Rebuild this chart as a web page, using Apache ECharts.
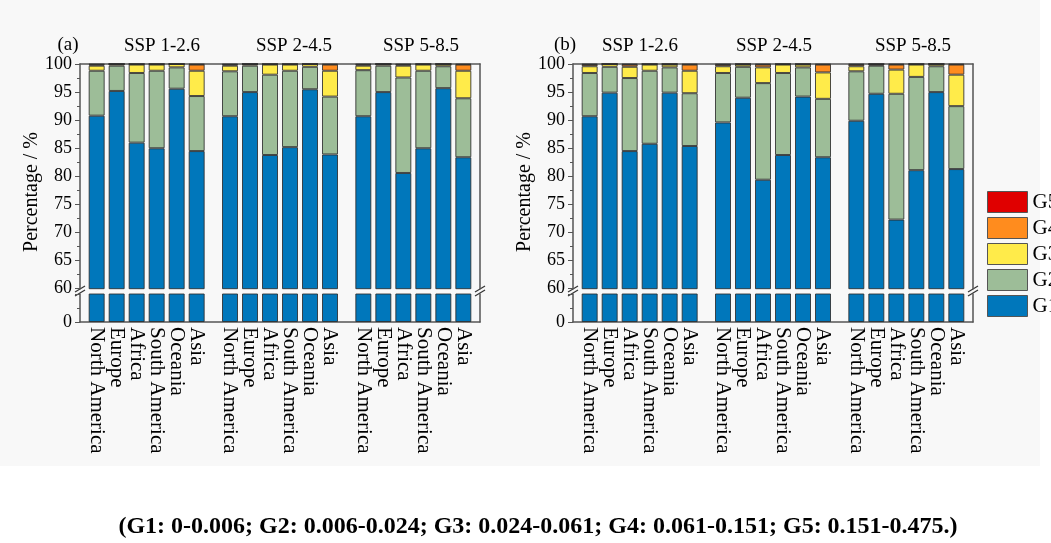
<!DOCTYPE html>
<html><head><meta charset="utf-8">
<script src="https://cdn.jsdelivr.net/npm/echarts@6/dist/echarts.min.js"></script>
<style>html,body{margin:0;padding:0;background:#fff}#c{width:1051px;height:543px}</style>
</head><body><div id="c"></div>
<script>
// ---------- data ----------
const regions = ['North America', 'Europe', 'Africa', 'South America', 'Oceania', 'Asia'];
const scenarios = ['SSP 1-2.6', 'SSP 2-4.5', 'SSP 5-8.5'];
const classNames = ['G1', 'G2', 'G3', 'G4', 'G5'];
const caption = '(G1: 0-0.006; G2: 0.006-0.024; G3: 0.024-0.061; G4: 0.061-0.151; G5: 0.151-0.475.)';

// Panel (a): percentage of each class, 3 scenarios x 6 regions
const a_G1 = [90.8, 95.2, 86.0, 85.0, 95.6, 84.5,  90.7, 95.0, 83.8, 85.2, 95.5, 83.9,  90.7, 95.0, 80.6, 85.0, 95.7, 83.4];
const a_G2 = [ 8.0,  4.5, 12.4, 13.8,  3.8,  9.8,   8.0,  4.7, 14.3, 13.6,  4.0, 10.3,   8.2,  4.7, 17.0, 13.8,  3.9, 10.5];
const a_G3 = [ 0.9,  0.3,  1.5,  1.1,  0.6,  4.5,   1.0,  0.3,  1.8,  1.1,  0.5,  4.6,   0.8,  0.3,  2.1,  1.1,  0.4,  4.9];
const a_G4 = [ 0.2,  0.0,  0.1,  0.1,  0.0,  1.1,   0.2,  0.0,  0.1,  0.1,  0.0,  1.1,   0.2,  0.0,  0.2,  0.1,  0.0,  1.1];
const a_G5 = [ 0.1,  0.0,  0.0,  0.0,  0.0,  0.1,   0.1,  0.0,  0.0,  0.0,  0.0,  0.1,   0.1,  0.0,  0.1,  0.0,  0.0,  0.1];

// Panel (b)
const b_G1 = [90.7, 94.9, 84.5, 85.8, 94.9, 85.4,  89.6, 94.0, 79.4, 83.8, 94.2, 83.4,  89.9, 94.7, 72.3, 81.1, 95.0, 81.3];
const b_G2 = [ 7.7,  4.6, 13.0, 13.0,  4.5,  9.4,   8.8,  5.5, 17.2, 14.6,  5.2, 10.4,   8.8,  5.0, 22.4, 16.6,  4.6, 11.2];
const b_G3 = [ 1.2,  0.5,  2.0,  1.1,  0.5,  4.0,   1.2,  0.4,  2.8,  1.5,  0.5,  4.7,   0.9,  0.2,  4.3,  2.2,  0.4,  5.6];
const b_G4 = [ 0.3,  0.0,  0.4,  0.1,  0.1,  1.1,   0.3,  0.1,  0.5,  0.1,  0.1,  1.4,   0.3,  0.1,  0.9,  0.1,  0.0,  1.8];
const b_G5 = [ 0.1,  0.0,  0.1,  0.0,  0.0,  0.1,   0.1,  0.0,  0.1,  0.0,  0.0,  0.1,   0.1,  0.0,  0.1,  0.0,  0.0,  0.1];

const upperTicks = {min: 60, max: 100, interval: 5};
const lowerTicks = {min: 0, max: 60, interval: 60};

// ---------- style ----------
const colors = {G1: '#0077bb', G2: '#9dbd98', G3: '#ffeb4a', G4: '#ff8c1e', G5: '#e00000'};
const FONT = 'Liberation Serif';
const AX = '#555';
const panels = [
  {label: '(a)', left: 80, data: [a_G1, a_G2, a_G3, a_G4, a_G5], labelX: 68, titleX: [162, 294, 421]},
  {label: '(b)', left: 573, data: [b_G1, b_G2, b_G3, b_G4, b_G5], labelX: 565, titleX: [640, 774, 913]}
];
const W = 400, UP_TOP = 64, UP_H = 224.7, LO_TOP = 294, LO_H = 28;
// 60 sub-slots across the panel width; region i of scenario g sits at slot 2 + 3i + 20g
const NSLOT = 60;
function slotOf(g, i) { return 2 + 3 * i + 20 * g; }
const slotNames = new Array(NSLOT).fill('');
scenarios.forEach((s, g) => regions.forEach((r, i) => { slotNames[slotOf(g, i)] = r; }));

const grid = [], xAxis = [], yAxis = [], series = [], graphic = [];
graphic.push({type: 'rect', shape: {x: 0, y: 0, width: 1040, height: 466}, style: {fill: '#f8f8f8'}, z: -10, silent: true});

panels.forEach((p, pi) => {
  const gU = grid.length, gL = gU + 1;
  grid.push({left: p.left, top: UP_TOP, width: W, height: UP_H, outerBoundsMode: 'none', containLabel: false});
  grid.push({left: p.left, top: LO_TOP, width: W, height: LO_H, outerBoundsMode: 'none', containLabel: false});
  const xU = xAxis.length, xL = xU + 1;
  xAxis.push({type: 'category', gridIndex: gU, position: 'top', data: slotNames,
    axisLine: {show: true, lineStyle: {color: AX, width: 1.5}}, axisTick: {show: false}, axisLabel: {show: false}, splitLine: {show: false}});
  xAxis.push({type: 'category', gridIndex: gL, position: 'bottom', data: slotNames,
    axisLine: {show: true, lineStyle: {color: AX, width: 1.5}}, axisTick: {show: false},
    axisLabel: {show: true, interval: 0, rotate: -90, margin: 5, fontFamily: FONT, fontSize: 21, color: '#000'},
    splitLine: {show: false}});
  const yU = yAxis.length;
  const tickStyle = {show: true, inside: false, length: 5, lineStyle: {color: AX, width: 1}};
  yAxis.push({type: 'value', gridIndex: gU, position: 'left', min: upperTicks.min, max: upperTicks.max, interval: upperTicks.interval,
    axisLine: {show: true, lineStyle: {color: AX, width: 1.5}}, axisTick: tickStyle,
    minorTick: {show: true, splitNumber: 2, length: 3, lineStyle: {color: AX}},
    axisLabel: {show: true, margin: 8, fontFamily: FONT, fontSize: 18, color: '#000'}, splitLine: {show: false}});
  yAxis.push({type: 'value', gridIndex: gU, position: 'right', min: upperTicks.min, max: upperTicks.max,
    axisLine: {show: true, lineStyle: {color: AX, width: 1.5}}, axisTick: {show: false}, axisLabel: {show: false}, splitLine: {show: false}});
  const yL = yAxis.length;
  yAxis.push({type: 'value', gridIndex: gL, position: 'left', min: lowerTicks.min, max: lowerTicks.max, interval: lowerTicks.interval,
    axisLine: {show: true, lineStyle: {color: AX, width: 1.5}}, axisTick: tickStyle,
    minorTick: {show: true, splitNumber: 2, length: 3, lineStyle: {color: AX}},
    axisLabel: {show: true, margin: 8, fontFamily: FONT, fontSize: 18, color: '#000', formatter: v => v === 0 ? '0' : ''}, splitLine: {show: false}});
  yAxis.push({type: 'value', gridIndex: gL, position: 'right', min: lowerTicks.min, max: lowerTicks.max,
    axisLine: {show: true, lineStyle: {color: AX, width: 1.5}}, axisTick: {show: false}, axisLabel: {show: false}, splitLine: {show: false}});

  classNames.forEach((cn, k) => {
    const vals = new Array(NSLOT).fill('-');
    scenarios.forEach((s, g) => regions.forEach((r, i) => { vals[slotOf(g, i)] = p.data[k][g * 6 + i]; }));
    const base = {type: 'bar', name: cn, barWidth: 16, clip: true, data: vals,
      itemStyle: {color: colors[cn], borderColor: 'rgba(45,45,45,0.85)', borderWidth: 1}, emphasis: {disabled: true}};
    series.push(Object.assign({}, base, {xAxisIndex: xU, yAxisIndex: yU, stack: 'up' + pi}));
    series.push(Object.assign({}, base, {xAxisIndex: xL, yAxisIndex: yL, stack: 'lo' + pi}));
  });

  // titles
  graphic.push({type: 'text', x: p.labelX, y: 45, style: {text: p.label, fontFamily: FONT, fontSize: 19, fill: '#000', align: 'center', verticalAlign: 'middle'}});
  scenarios.forEach((s, g) => graphic.push({type: 'text', x: p.titleX[g], y: 46,
    style: {text: s, fontFamily: FONT, fontSize: 19, fill: '#000', align: 'center', verticalAlign: 'middle'}}));
  // y axis name
  graphic.push({type: 'text', x: p.left - 48, y: 192, rotation: Math.PI / 2,
    style: {text: 'Percentage / %', fontFamily: FONT, fontSize: 20, fill: '#000', align: 'center', verticalAlign: 'middle'}});
  // break marks
  [p.left, p.left + W].forEach(x => {
    graphic.push({type: 'line', shape: {x1: x - 5, y1: 292, x2: x + 5, y2: 286}, style: {stroke: '#333', lineWidth: 1.2}});
    graphic.push({type: 'line', shape: {x1: x - 5, y1: 296, x2: x + 5, y2: 290}, style: {stroke: '#333', lineWidth: 1.2}});
  });
});

graphic.push({type: 'text', x: 538, y: 527, style: {text: caption, fontFamily: FONT, fontSize: 24, fontWeight: 'bold', fill: '#000', align: 'center', verticalAlign: 'middle'}});

const option = {
  backgroundColor: '#ffffff',
  animation: false,
  grid, xAxis, yAxis, series, graphic,
  legend: {
    orient: 'vertical', left: 987, top: 191, padding: 0, itemWidth: 40, itemHeight: 21, itemGap: 4,
    icon: 'rect', data: classNames.slice().reverse(),
    itemStyle: {borderColor: '#555', borderWidth: 1},
    textStyle: {fontFamily: FONT, fontSize: 21, color: '#000'},
    selectedMode: false
  }
};
const chart = echarts.init(document.getElementById('c'), null, {renderer: 'canvas'});
chart.setOption(option);
</script></body></html>
